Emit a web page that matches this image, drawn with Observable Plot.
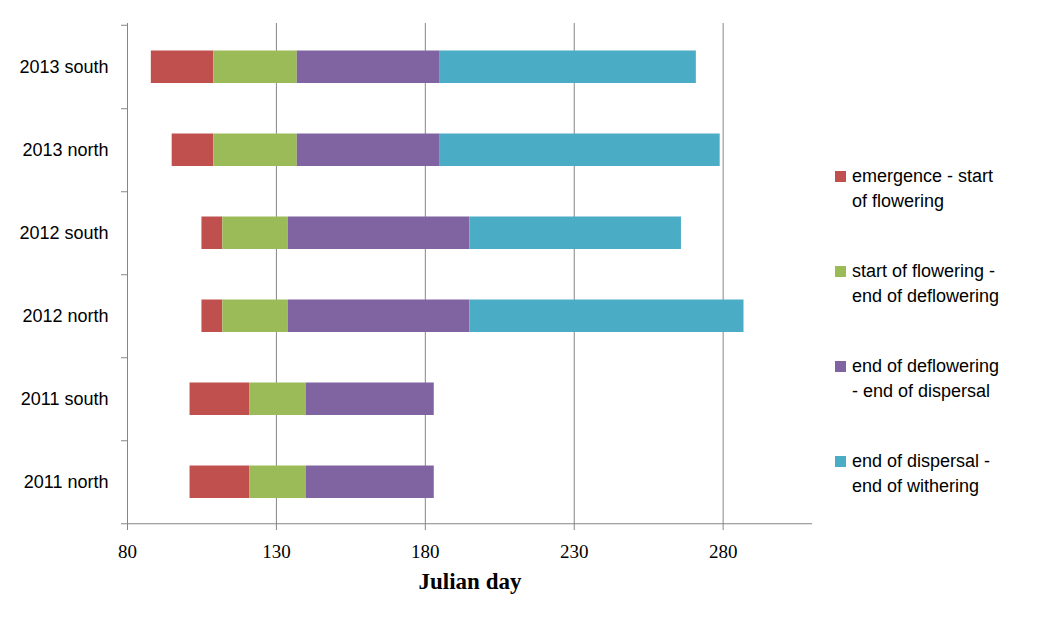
<!DOCTYPE html>
<html><head><meta charset="utf-8">
<script src="https://cdn.jsdelivr.net/npm/d3@7"></script>
<script src="https://cdn.jsdelivr.net/npm/@observablehq/plot@0.6"></script>
<style>
body{margin:0;background:#fff;}
#wrap{position:relative;width:1042px;height:622px;}
g[aria-label="x-axis label"] text{font-weight:bold;font-size:23px;}
#legend{position:absolute;left:835px;top:164px;font-family:"Liberation Sans",sans-serif;font-size:18px;color:#000;line-height:25px;}
.item{position:relative;padding-left:17px;height:95px;}
.sw{position:absolute;left:0;top:7px;width:11px;height:11px;}
</style></head><body>
<div id="wrap"><div id="legend"></div></div>
<script>
const categories = ["2013 south","2013 north","2012 south","2012 north","2011 south","2011 north"];
const emergence      = [88, 95, 105, 105, 101, 101];
const startFlowering = [109, 109, 112, 112, 121, 121];
const endDeflowering = [137, 137, 134, 134, 140, 140];
const endDispersal   = [185, 185, 195, 195, 183, 183];
const endWithering   = [271, 279, 266, 287, null, null];
const phases = ["emergence - start of flowering","start of flowering - end of deflowering","end of deflowering - end of dispersal","end of dispersal - end of withering"];
const legendLines = [["emergence - start","of flowering"],["start of flowering -","end of deflowering"],["end of deflowering","- end of dispersal"],["end of dispersal -","end of withering"]];
const colors = ["#C0504D","#9BBB59","#8064A2","#4BACC6"];
const xTicks = [80,130,180,230,280];

const bounds = [emergence,startFlowering,endDeflowering,endDispersal,endWithering];
const segs = [];
categories.forEach((c,i)=>{
  for(let k=0;k<4;k++){
    const a=bounds[k][i], b=bounds[k+1][i];
    if(a!=null && b!=null) segs.push({cat:c, phase:phases[k], x1:a, x2:b});
  }
});

const W=1042,H=622,mT=23,mB=98,mL=127,mR=230;
const step=(H-mT-mB)/categories.length;
const grey="#868686";

const chart = Plot.plot({
  width:W,height:H,marginTop:mT,marginBottom:mB,marginLeft:mL,marginRight:mR,
  style:{fontFamily:"Liberation Sans, sans-serif",fontSize:"16px",color:"#000",background:"#fff"},
  x:{domain:[80,310]},
  y:{domain:categories,padding:0},
  color:{domain:phases,range:colors},
  marks:[
    Plot.gridX(xTicks.slice(1),{stroke:grey,strokeOpacity:1,strokeWidth:1}),
    Plot.ruleX([80],{stroke:grey,strokeWidth:1}),
    Plot.barX(segs,{y:"cat",x1:"x1",x2:"x2",fill:"phase",insetTop:25.5,insetBottom:25}),
    Plot.ruleY([categories[categories.length-1]],{y:d=>d,x1:80,x2:310,dy:step/2,stroke:grey}),
    Plot.axisY({tickSize:0,tickPadding:19,fontSize:18,label:null}),
    Plot.axisY({tickSize:6,text:null,dy:step/2,stroke:grey,label:null}),
    Plot.axisY([categories[0]],{tickSize:6,text:null,dy:-step/2,stroke:grey,label:null}),
    Plot.axisX(xTicks,{tickSize:6,tickPadding:14,stroke:grey,fontFamily:"Liberation Serif, serif",fontSize:19,label:"Julian day",labelAnchor:"center",labelArrow:false,labelOffset:64})
  ]
});
document.getElementById("wrap").prepend(chart);

const lg=document.getElementById("legend");
legendLines.forEach((ls,i)=>{
  const d=document.createElement("div");d.className="item";
  d.innerHTML=`<span class="sw" style="background:${colors[i]}"></span>${ls[0]}<br>${ls[1]}`;
  lg.appendChild(d);
});
</script></body></html>
